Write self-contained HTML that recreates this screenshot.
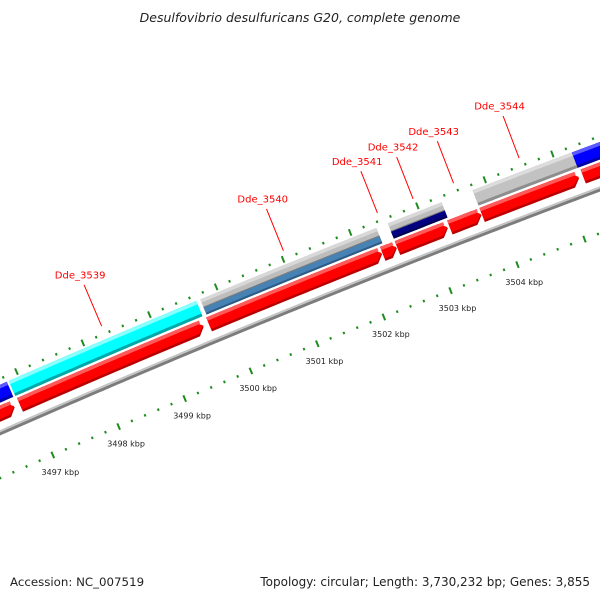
<!DOCTYPE html>
<html><head><meta charset="utf-8"><style>
html,body{margin:0;padding:0;background:#fff;}
svg{display:block;font-family:"DejaVu Sans","Liberation Sans",sans-serif;}
</style></head><body>
<svg id="map" width="600" height="600" viewBox="0 0 600 600">
<text x="300" y="22" text-anchor="middle" font-size="12.5" font-style="italic" fill="#222">Desulfovibrio desulfuricans G20, complete genome</text>
<g id="layer"></g>
<text x="10" y="586" font-size="11.8" fill="#222">Accession: NC_007519</text>
<text x="590" y="586" text-anchor="end" font-size="12" fill="#222">Topology: circular; Length: 3,730,232 bp; Genes: 3,855</text>
</svg>
<script>
// data (kbp)
const redStarts = [3495.0, 3496.86, 3499.71, 3502.31, 3502.53, 3503.31, 3503.79, 3505.29];
const redEnds   = [3496.78, 3499.63, 3502.30, 3502.52, 3503.28, 3503.78, 3505.23, 3507.5];
const topStarts = [3495.0, 3496.85, 3499.73, 3502.53, 3503.79, 3505.26];
const topEnds   = [3496.82, 3499.67, 3502.36, 3503.33, 3505.26, 3507.5];
const topKinds  = ["blue", "cyan", "gray-steel", "gray-navy", "gray", "blue"];
const geneNames = ["Dde_3539", "Dde_3540", "Dde_3541", "Dde_3542", "Dde_3543", "Dde_3544"];
const geneAnchors = [3498.33, 3501.05, 3502.45, 3502.98, 3503.58, 3504.55];
const tickLabels = [3497, 3498, 3499, 3500, 3501, 3502, 3503, 3504];

const NS = "http://www.w3.org/2000/svg";
const layer = document.getElementById("layer");
const R = 11600, ux = -0.376, uy = -0.926;
const cx = 304 - ux * R, cy = 311 - uy * R;
const th0 = Math.atan2(uy, ux), bRef = 3501.0, pxPerKb = 72;
function ang(b) { return th0 + (b - bRef) * pxPerKb / R; }
function pt(b, d) { const a = ang(b); return [cx + (R + d) * Math.cos(a), cy + (R + d) * Math.sin(a)]; }
function bandPath(b1, b2, r1, r2, arrow) {
  const head = 0.1, pts = [];
  const bEnd = arrow ? Math.max(b1, b2 - head) : b2;
  const n = Math.max(2, Math.ceil((bEnd - b1) / 0.1));
  for (let i = 0; i <= n; i++) pts.push(pt(b1 + (bEnd - b1) * i / n, r2));
  if (arrow) pts.push(pt(b2, (r1 + r2) / 2));
  for (let i = n; i >= 0; i--) pts.push(pt(b1 + (bEnd - b1) * i / n, r1));
  return "M" + pts.map(p => p[0].toFixed(2) + "," + p[1].toFixed(2)).join("L") + "Z";
}
function addPath(d, fill, name) {
  const p = document.createElementNS(NS, "path");
  p.setAttribute("d", d); p.setAttribute("fill", fill);
  
  
  layer.appendChild(p); return p;
}
function addLine(a, b, stroke, w, name) {
  const l = document.createElementNS(NS, "line");
  l.setAttribute("x1", a[0]); l.setAttribute("y1", a[1]);
  l.setAttribute("x2", b[0]); l.setAttribute("y2", b[1]);
  l.setAttribute("stroke", stroke); l.setAttribute("stroke-width", w);
  
  
  layer.appendChild(l); return l;
}
function addText(p, s, size, fill, name) {
  const t = document.createElementNS(NS, "text");
  t.setAttribute("x", p[0]); t.setAttribute("y", p[1]);
  t.setAttribute("text-anchor", "middle"); t.setAttribute("dominant-baseline", "middle");
  t.setAttribute("font-size", size); t.setAttribute("fill", fill);
  t.textContent = s;
  
  
  layer.appendChild(t); return t;
}
// backbone
addPath(bandPath(3494, 3509, -3, 0, false), "#7c7c7c", "backbone-dark");
addPath(bandPath(3494, 3509, 0, 2, false), "#c4c4c4", "backbone-light");
// ticks
for (let i = 0; i <= 70; i++) {
  const b = 3494 + i * 0.2;
  const major = (i % 5 === 0);
  const len = major ? 7 : 2.5;
  addLine(pt(b, 49 - len / 2), pt(b, 49 + len / 2), "#1f8c1f", 2, major ? "upper-major-tick" : "upper-minor-tick");
  addLine(pt(b, -42 - len / 2), pt(b, -42 + len / 2), "#1f8c1f", 2, major ? "lower-major-tick" : "lower-minor-tick");
}
tickLabels.forEach(k => addText(pt(k, -61), k + " kbp", 8, "#222", "tick-label-" + k));
// red forward features
for (let i = 0; i < redStarts.length; i++) {
  const s = redStarts[i], e = redEnds[i];
  addPath(bandPath(s, e, 9.5, 24.5, true), "#b80000", "forward-gene-" + i);
  addPath(bandPath(s, e, 12, 24.5, true), "#ff0000", "forward-gene-body-" + i);
  addPath(bandPath(s, e - 0.03, 21, 24.5, false), "#ff5a5a", "forward-gene-highlight-" + i);
}
// top row features
const palettes = {
  blue: ["#0000a8", "#0000ff", "#5a5aff"],
  cyan: ["#00a8a8", "#00ffff", "#8affff"],
  gray: ["#8e8e8e", "#c2c2c2", "#dcdcdc"]
};
for (let i = 0; i < topStarts.length; i++) {
  const s = topStarts[i], e = topEnds[i], k = topKinds[i];
  if (palettes[k]) {
    const c = palettes[k];
    addPath(bandPath(s, e, 27, 43.5, false), c[0], "gene-" + k + "-" + i);
    addPath(bandPath(s, e, 30, 43.5, false), c[1], "gene-body-" + i);
    addPath(bandPath(s, e, 40, 43.5, false), c[2], "gene-highlight-" + i);
  } else {
    const low = k === "gray-steel" ? ["#2c5a85", "#4682b4"] : ["#000050", "#000080"];
    addPath(bandPath(s, e, 27, 35, false), low[0], "gene-" + k + "-" + i);
    addPath(bandPath(s, e, 29, 35, false), low[1], "gene-lower-" + i);
    addPath(bandPath(s, e, 35, 43.5, false), "#bdbdbd", "gene-upper-" + i);
    addPath(bandPath(s, e, 40, 43.5, false), "#d8d8d8", "gene-upper-highlight-" + i);
    addPath(bandPath(s, e, 34.5, 35.5, false), "#7a7a7a", "gene-divider-" + i);
  }
}
// gene labels
for (let i = 0; i < geneNames.length; i++) {
  addLine(pt(geneAnchors[i], 57), pt(geneAnchors[i], 102), "#ff0000", 1, "label-line-" + geneNames[i]);
  addText(pt(geneAnchors[i], 112), geneNames[i], 10, "#ff0000", "gene-label-" + geneNames[i]);
}
</script>
</body></html>
